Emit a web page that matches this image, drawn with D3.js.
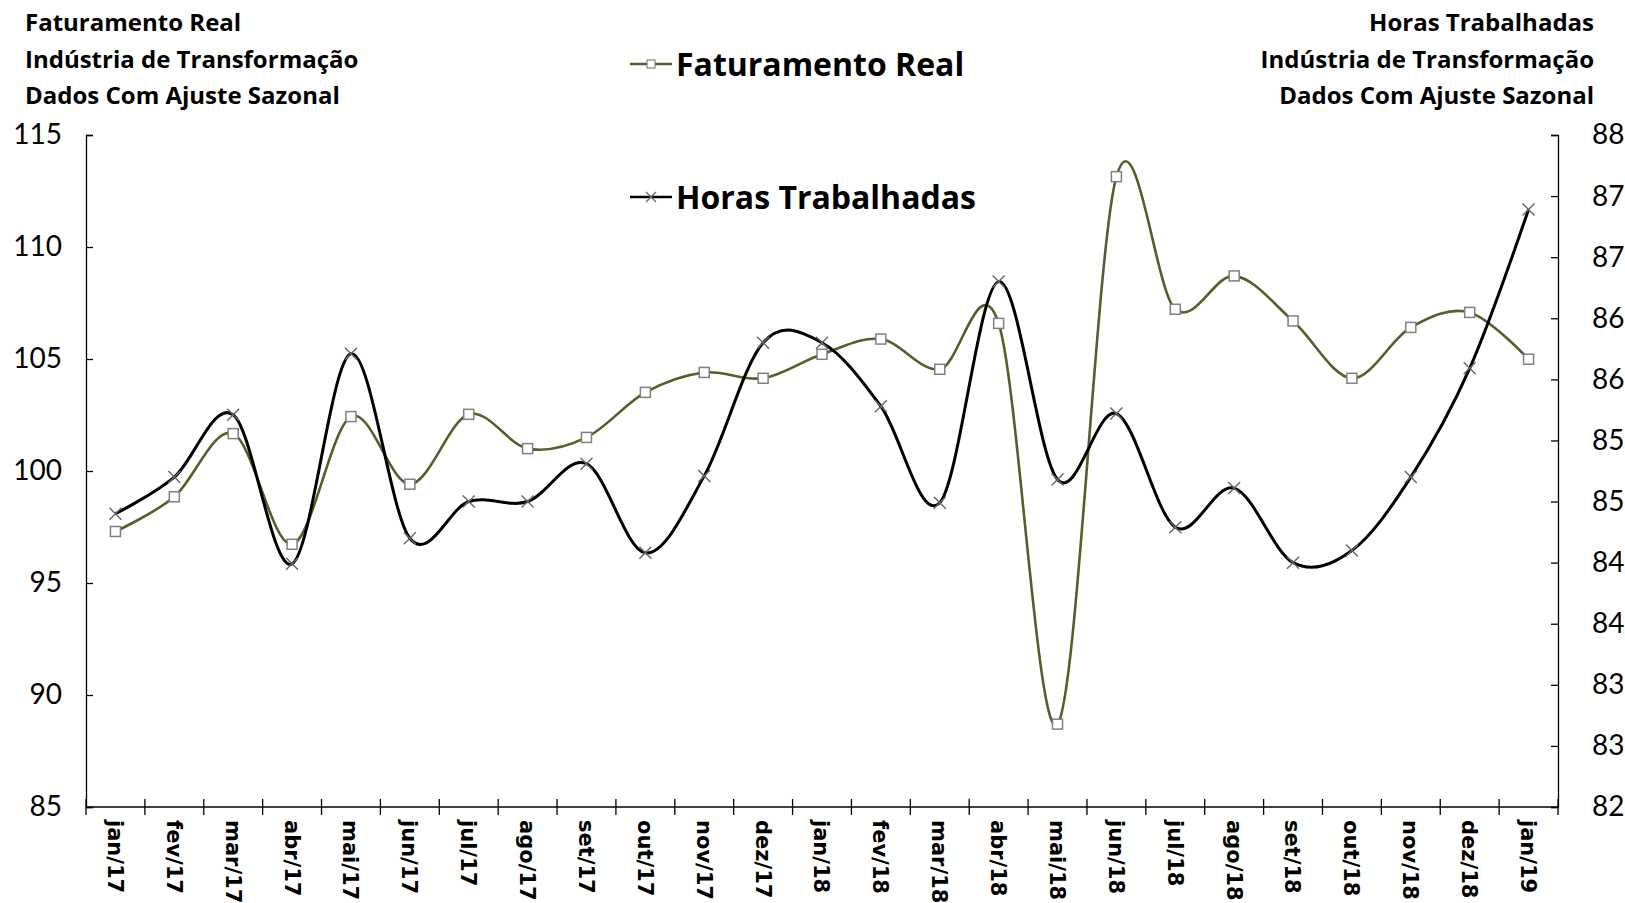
<!DOCTYPE html>
<html>
<head>
<meta charset="utf-8">
<script src="https://cdn.jsdelivr.net/npm/d3@7"></script>
<style>
    body { margin: 0; background: #fff; }
    svg { display: block; }
</style>
</head>
<body>
<div id="graph"></div>
<script>
// Data
const months = ["jan/17", "fev/17", "mar/17", "abr/17", "mai/17", "jun/17", "jul/17", "ago/17", "set/17",
    "out/17", "nov/17", "dez/17", "jan/18", "fev/18", "mar/18", "abr/18", "mai/18", "jun/18", "jul/18",
    "ago/18", "set/18", "out/18", "nov/18", "dez/18", "jan/19"];
const faturamento = [97.3, 98.85, 101.67, 96.73, 102.43, 99.41, 102.53, 101.0, 101.5,
    103.51, 104.4, 104.14, 105.21, 105.89, 104.54, 106.59, 88.7, 113.14, 107.22,
    108.71, 106.7, 104.14, 106.41, 107.08, 104.99];
const horas = [84.40, 84.70, 85.21, 83.99, 85.71, 84.20, 84.50, 84.50, 84.81,
    84.08, 84.71, 85.80, 85.80, 85.28, 84.49, 86.30, 84.68, 85.22, 84.29,
    84.61, 84.00, 84.10, 84.70, 85.59, 86.89];
const leftTicks = [85, 90, 95, 100, 105, 110, 115];
const rightTicks = [82, 82.5, 83, 83.5, 84, 84.5, 85, 85.5, 86, 86.5, 87, 87.5];
const leftTitle = ["Faturamento Real", "Indústria de Transformação", "Dados Com Ajuste Sazonal"];
const rightTitle = ["Horas Trabalhadas", "Indústria de Transformação", "Dados Com Ajuste Sazonal"];

// Layout
const w = 1625;
const h = 903;
const p = { left: 86, right: 1558, top: 135, bottom: 807 };
const greenLine = "#4f6228";
const titleFont = "'Open Sans', Lato, sans-serif";

const svg = d3.select("#graph")
    .append("svg")
    .attr("width", w)
    .attr("height", h)
    .style("font-family", "Lato, 'Open Sans', sans-serif");

// Scales
const xScale = d3.scaleBand()
    .domain(months)
    .range([p.left, p.right]);
const yLeft = d3.scaleLinear()
    .domain([85, 115])
    .range([p.bottom, p.top]);
const yRight = d3.scaleLinear()
    .domain([82, 87.5])
    .range([p.bottom, p.top]);
const cx = d => xScale(d) + xScale.bandwidth() / 2;

// Axes
const leftAxis = d3.axisRight(yLeft).tickValues(leftTicks).tickSize(7).tickFormat(d3.format("d"));
const rightAxis = d3.axisLeft(yRight).tickValues(rightTicks).tickSize(7).tickFormat(d => Math.round(d));

const gl = svg.append("g")
    .attr("transform", "translate(" + p.left + ",0)")
    .call(leftAxis);
gl.selectAll("text")
    .attr("x", -24)
    .attr("text-anchor", "end")
    .style("font-size", "28px")
    .style("font-family", "Lato, sans-serif")
    .attr("fill", "#000");

const gr = svg.append("g")
    .attr("transform", "translate(" + p.right + ",0)")
    .call(rightAxis);
gr.selectAll("text")
    .attr("x", 34)
    .attr("text-anchor", "start")
    .style("font-size", "28px")
    .style("font-family", "Lato, sans-serif")
    .attr("fill", "#000");

[gl, gr].forEach(g => {
    g.select(".domain").attr("stroke", "#000").attr("stroke-width", 1.3);
    g.selectAll(".tick line").attr("stroke", "#000").attr("stroke-width", 1.3);
});

// x axis: line, crossing ticks at band edges, rotated labels
const gx = svg.append("g").attr("id", "x-axis");
gx.append("line")
    .attr("x1", p.left).attr("x2", p.right)
    .attr("y1", p.bottom).attr("y2", p.bottom)
    .attr("stroke", "#000").attr("stroke-width", 1.3);
gx.selectAll(".edge")
    .data(months.concat(["end"]))
    .enter()
    .append("line")
    .attr("class", "edge")
    .attr("x1", (d, i) => i < months.length ? xScale(d) : p.right)
    .attr("x2", (d, i) => i < months.length ? xScale(d) : p.right)
    .attr("y1", p.bottom - 8)
    .attr("y2", p.bottom + 8)
    .attr("stroke", "#000").attr("stroke-width", 1.3);
gx.selectAll("text")
    .data(months)
    .enter()
    .append("text")
    .attr("transform", d => "translate(" + cx(d) + "," + (p.bottom + 13) + ") rotate(90)")
    .attr("dy", "0.36em")
    .style("font-family", "'DejaVu Sans', Verdana, sans-serif")
    .style("font-weight", "bold")
    .style("font-size", "21px")
    .text(d => d);

// Lines
const fatLine = d3.line()
    .x((d, i) => cx(months[i]))
    .y(d => yLeft(d))
    .curve(d3.curveCardinal.tension(0));
const horLine = d3.line()
    .x((d, i) => cx(months[i]))
    .y(d => yRight(d))
    .curve(d3.curveCardinal.tension(0));

svg.append("path")
    .datum(faturamento)
    .attr("d", fatLine)
    .attr("fill", "none")
    .attr("stroke", greenLine)
    .attr("stroke-width", 2.6);

svg.append("path")
    .datum(horas)
    .attr("d", horLine)
    .attr("fill", "none")
    .attr("stroke", "#000")
    .attr("stroke-width", 3);

// Markers
svg.append("g")
    .selectAll("rect")
    .data(faturamento)
    .enter()
    .append("rect")
    .attr("x", (d, i) => cx(months[i]) - 5)
    .attr("y", d => yLeft(d) - 5)
    .attr("width", 10)
    .attr("height", 10)
    .attr("fill", "#fff")
    .attr("stroke", "#808080")
    .attr("stroke-width", 1.5);

svg.append("g")
    .selectAll("path")
    .data(horas)
    .enter()
    .append("path")
    .attr("transform", (d, i) => "translate(" + cx(months[i]) + "," + yRight(d) + ")")
    .attr("d", "M-6,-6L6,6M-6,6L6,-6")
    .attr("stroke", "#666")
    .attr("stroke-width", 1.4);

// Titles
svg.append("g")
    .selectAll("text")
    .data(leftTitle)
    .enter()
    .append("text")
    .attr("x", 25)
    .attr("y", (d, i) => 31 + i * 36.5)
    .style("font-family", titleFont)
    .style("font-weight", "bold")
    .style("font-size", "24px")
    .text(d => d);
svg.append("g")
    .selectAll("text")
    .data(rightTitle)
    .enter()
    .append("text")
    .attr("x", 1594)
    .attr("y", (d, i) => 31 + i * 36.5)
    .attr("text-anchor", "end")
    .style("font-family", titleFont)
    .style("font-weight", "bold")
    .style("font-size", "24px")
    .text(d => d);

// Legend
const legend = svg.append("g").attr("id", "legend");
const fatLeg = legend.append("g").attr("transform", "translate(630,64)");
fatLeg.append("line").attr("x1", 0).attr("x2", 42).attr("stroke", greenLine).attr("stroke-width", 2.6);
fatLeg.append("rect").attr("x", 17).attr("y", -4).attr("width", 8).attr("height", 8)
    .attr("fill", "#fff").attr("stroke", "#808080").attr("stroke-width", 1.2);
fatLeg.append("text").attr("x", 46).attr("dy", "0.36em")
    .style("font-family", titleFont)
    .style("font-weight", "bold").style("font-size", "32px").text("Faturamento Real");

const horLeg = legend.append("g").attr("transform", "translate(630,197)");
horLeg.append("line").attr("x1", 0).attr("x2", 42).attr("stroke", "#000").attr("stroke-width", 2.6);
horLeg.append("path").attr("d", "M16,-5L26,5M16,5L26,-5").attr("stroke", "#666").attr("stroke-width", 1.3);
horLeg.append("text").attr("x", 46).attr("dy", "0.36em")
    .style("font-family", titleFont)
    .style("font-weight", "bold").style("font-size", "32px").text("Horas Trabalhadas");
</script>
</body>
</html>
